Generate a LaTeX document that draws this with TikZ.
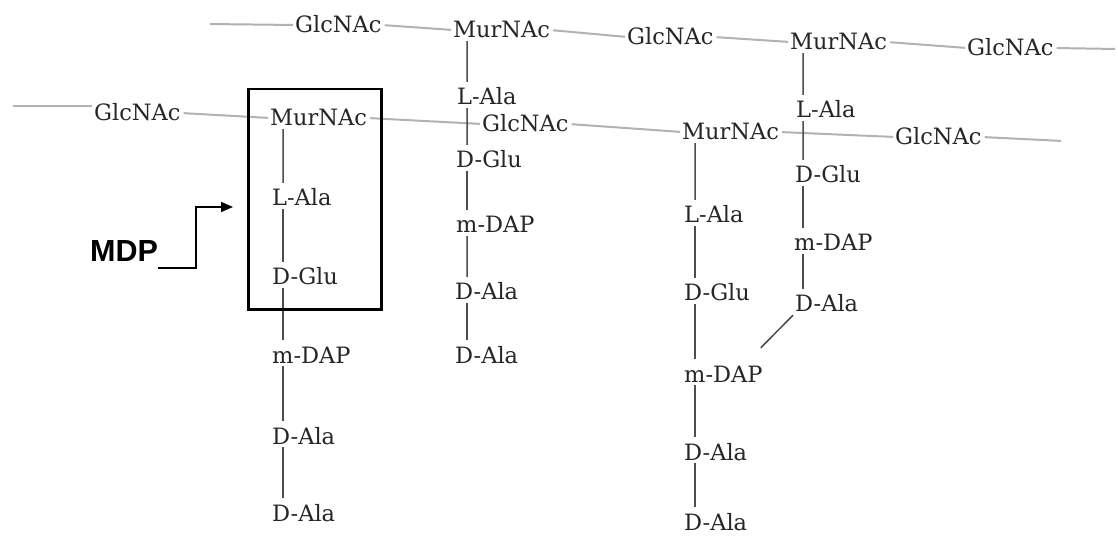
\documentclass[tikz,border=0pt]{standalone}
\usepackage{fontspec}
\usetikzlibrary{arrows.meta}
\newfontfamily\lbfont{DejaVu Serif}
\newfontfamily\mdpfont{Liberation Sans}
\tikzset{
  lbl/.style={anchor=west, inner sep=0pt, text height=16bp, text depth=0pt,
    text=black!85, font={\lbfont\fontsize{22.5bp}{27bp}\selectfont}},
  gly/.style={draw=black!30, line width=2bp, shorten <=3bp, shorten >=2bp},
  pep/.style={draw=black!70, line width=1.5bp, shorten <=3bp, shorten >=7bp},
}
\begin{document}
\begin{tikzpicture}[x=1bp,y=-1bp]
\useasboundingbox[fill=white] (0,0) rectangle (1118,541);
% top chain
\coordinate (tl) at (207,24);
\coordinate (tr) at (1117,49);
\node[lbl] (gT1) at (295,25) {GlcNAc};
\node[lbl] (mT1) at (453,30) {MurNAc};
\node[lbl] (gT2) at (627,37) {GlcNAc};
\node[lbl] (mT2) at (790,42) {MurNAc};
\node[lbl] (gT3) at (967,48) {GlcNAc};
% second chain
\coordinate (sl) at (10,106);
\coordinate (sr) at (1063,141);
\node[lbl] (gS1) at (94,113) {GlcNAc};
\node[lbl] (mS1) at (270,118) {MurNAc};
\node[lbl] (gS2) at (482,124) {GlcNAc};
\node[lbl] (mS2) at (682,132) {MurNAc};
\node[lbl] (gS3) at (895,137) {GlcNAc};
% column 1
\node[lbl] (a1) at (272,198) {L-Ala};
\node[lbl] (b1) at (272,277) {D-Glu};
\node[lbl] (c1) at (272,355) {m-DAP};
\node[lbl] (d1) at (272,436) {D-Ala};
\node[lbl] (e1) at (272,513) {D-Ala};
% column 2
\node[lbl] (a2) at (457,97) {L-Ala};
\node[lbl] (b2) at (456,160) {D-Glu};
\node[lbl] (c2) at (456,225) {m-DAP};
\node[lbl] (d2) at (455,292) {D-Ala};
\node[lbl] (e2) at (455,355) {D-Ala};
% column 3
\node[lbl] (a3) at (684,215) {L-Ala};
\node[lbl] (b3) at (684,293) {D-Glu};
\node[lbl] (c3) at (684,374) {m-DAP};
\node[lbl] (d3) at (684,452) {D-Ala};
\node[lbl] (e3) at (684,522) {D-Ala};
% column 4
\node[lbl] (a4) at (796,110) {L-Ala};
\node[lbl] (b4) at (795,175) {D-Glu};
\node[lbl] (c4) at (794,243) {m-DAP};
\node[lbl] (d4) at (795,304) {D-Ala};
% glycan chains
\draw[gly] (tl) -- (gT1.west);
\draw[gly] (gT1.east) -- (mT1.west);
\draw[gly] (mT1.east) -- (gT2.west);
\draw[gly] (gT2.east) -- (mT2.west);
\draw[gly] (mT2.east) -- (gT3.west);
\draw[gly] (gT3.east) -- (tr);
\draw[gly] (sl) -- (sl -| gS1.west);
\draw[gly] (gS1.east) -- (mS1.west);
\draw[gly] (mS1.east) -- (gS2.west);
\draw[gly] (gS2.east) -- (mS2.west);
\draw[gly] (mS2.east) -- (gS3.west);
\draw[gly] (gS3.east) -- (sr);
% peptide column 1
\draw[pep] ([xshift=13bp]mS1.south west) -- ([xshift=11bp]a1.north west);
\draw[pep] ([xshift=11bp]a1.south west) -- ([xshift=11bp]b1.north west);
\draw[pep] ([xshift=11bp]b1.south west) -- ([xshift=11bp]c1.north west);
\draw[pep] ([xshift=11bp]c1.south west) -- ([xshift=11bp]d1.north west);
\draw[pep] ([xshift=11bp]d1.south west) -- ([xshift=11bp]e1.north west);
% peptide column 2
\draw[pep] ([xshift=14bp]mT1.south west) -- ([xshift=10bp]a2.north west);
\draw[pep] ([xshift=10bp]a2.south west) -- ([xshift=11bp]b2.north west);
\draw[pep] ([xshift=11bp]b2.south west) -- ([xshift=11bp]c2.north west);
\draw[pep] ([xshift=11bp]c2.south west) -- ([xshift=12bp]d2.north west);
\draw[pep] ([xshift=12bp]d2.south west) -- ([xshift=12bp]e2.north west);
% peptide column 3
\draw[pep] ([xshift=13bp]mS2.south west) -- ([xshift=11bp]a3.north west);
\draw[pep] ([xshift=11bp]a3.south west) -- ([xshift=11bp]b3.north west);
\draw[pep] ([xshift=11bp]b3.south west) -- ([xshift=11bp]c3.north west);
\draw[pep] ([xshift=11bp]c3.south west) -- ([xshift=11bp]d3.north west);
\draw[pep] ([xshift=11bp]d3.south west) -- ([xshift=11bp]e3.north west);
% peptide column 4
\draw[pep] ([xshift=13bp]mT2.south west) -- ([xshift=7bp]a4.north west);
\draw[pep] ([xshift=7bp]a4.south west) -- ([xshift=8bp]b4.north west);
\draw[pep] ([xshift=8bp]b4.south west) -- ([xshift=9bp]c4.north west);
\draw[pep] ([xshift=9bp]c4.south west) -- ([xshift=8bp]d4.north west);
% cross-link
\draw[pep, shorten <=0pt, shorten >=0pt] ([shift={(-2bp,18bp)}]c3.north east) -- ([shift={(-2bp,-3bp)}]d4.south west);
% MDP box and label
\node[draw=black, line width=2.5bp, minimum width=133bp, minimum height=220bp,
  inner sep=0pt, anchor=north west] (box) at (247,88) {};
\node[anchor=base west, inner sep=0pt, text depth=0pt,
  font={\mdpfont\bfseries\fontsize{30.5bp}{36bp}\selectfont}] (mdp) at (90,262) {MDP};
\coordinate (tip) at (233,207);
\draw[line width=1.8bp, -{Triangle[length=12bp,width=10bp]}]
  ([yshift=-6bp]mdp.south east) -- ++(38,0) |- (tip);
\end{tikzpicture}
\end{document}
